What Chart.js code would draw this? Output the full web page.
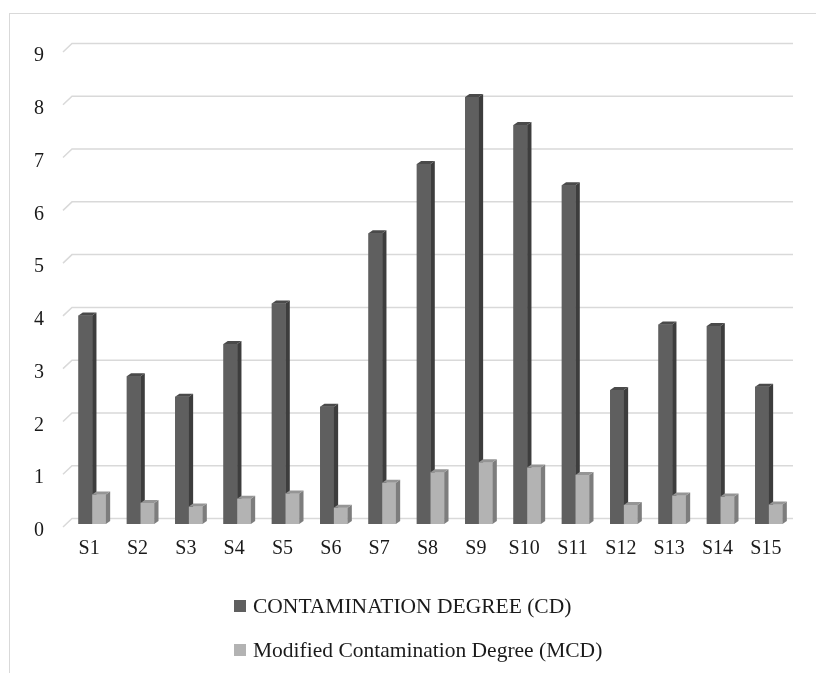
<!DOCTYPE html>
<html lang="en">
<head>
<meta charset="UTF-8">
<meta name="viewport" content="width=device-width, initial-scale=1.0">
<title>Contamination Degree by Site</title>
<script src="https://cdn.jsdelivr.net/npm/chart.js"></script>
<style>
    html, body { margin: 0; padding: 0; background: #fff; overflow: hidden; }
    #wrap { position: relative; width: 816px; height: 673px; overflow: hidden; }
    #frame { position: absolute; left: 9px; top: 13px; width: 900px; height: 800px; border: 1px solid #d9d9d9; }
    #chartCanvas { position: absolute; left: 0; top: 0; }
    #legend { position: absolute; left: 234px; top: 584px; font-family: "Liberation Serif", serif; font-size: 21.5px; color: #1a1a1a; }
    .item { height: 44px; display: flex; align-items: center; }
    .box { width: 12px; height: 12px; margin-right: 7px; }
</style>
</head>
<body>
<div id="wrap">
    <div id="frame"></div>
    <canvas id="chartCanvas" width="816" height="673"></canvas>
    <div id="legend"></div>
</div>

<script>
    const sites = ['S1','S2','S3','S4','S5','S6','S7','S8','S9','S10','S11','S12','S13','S14','S15'];
    const cdValues  = [3.95, 2.80, 2.41, 3.41, 4.18, 2.22, 5.51, 6.82, 8.09, 7.56, 6.42, 2.54, 3.78, 3.75, 2.60];
    const mcdValues = [0.56, 0.40, 0.33, 0.48, 0.58, 0.31, 0.78, 0.98, 1.17, 1.07, 0.93, 0.36, 0.54, 0.52, 0.37];
    const yTicks = [0, 1, 2, 3, 4, 5, 6, 7, 8, 9];

    const DEPTH_X = 4.3, DEPTH_Y = 3;
    const FONT = { family: '"Liberation Serif", serif', size: 20 };

    // fake 3D: back-wall grid, then each series redrawn left to right with side/top faces
    const depthBars = {
        id: 'depthBars',
        beforeDatasetsDraw(chart) {
            const { ctx, chartArea, scales: { y } } = chart;
            ctx.save();
            ctx.strokeStyle = '#d9d9d9';
            ctx.lineWidth = 1.5;
            y.ticks.forEach(t => {
                const py = y.getPixelForValue(t.value);
                ctx.beginPath();
                ctx.moveTo(chartArea.left - 5, py + 3);
                ctx.lineTo(chartArea.left + 4, py - 5.5);
                ctx.lineTo(chartArea.right, py - 5.5);
                ctx.stroke();
            });
            ctx.restore();
        },
        afterDatasetsDraw(chart) {
            const ctx = chart.ctx;
            ctx.save();
            chart.data.datasets.forEach((ds, i) => {
                const meta = chart.getDatasetMeta(i);
                meta.data.forEach(bar => {
                    bar.draw(ctx);
                    const { x, y, base, width } = bar.getProps(['x', 'y', 'base', 'width'], true);
                    const l = x - width / 2, r = x + width / 2;
                    ctx.fillStyle = ds.sideColor;
                    ctx.beginPath();
                    ctx.moveTo(r, y);
                    ctx.lineTo(r + DEPTH_X, y - DEPTH_Y);
                    ctx.lineTo(r + DEPTH_X, base - DEPTH_Y);
                    ctx.lineTo(r, base);
                    ctx.closePath();
                    ctx.fill();
                    ctx.fillStyle = ds.topColor;
                    ctx.beginPath();
                    ctx.moveTo(l, y);
                    ctx.lineTo(l + DEPTH_X, y - DEPTH_Y);
                    ctx.lineTo(r + DEPTH_X, y - DEPTH_Y);
                    ctx.lineTo(r, y);
                    ctx.closePath();
                    ctx.fill();
                });
            });
            ctx.restore();
        }
    };

    const ctx = document.getElementById('chartCanvas').getContext('2d');
    const chart = new Chart(ctx, {
        type: 'bar',
        data: {
            labels: sites,
            datasets: [{
                label: 'CONTAMINATION DEGREE (CD)',
                data: cdValues,
                backgroundColor: '#5f5f5f',
                sideColor: '#3d3d3d',
                topColor: '#4a4a4a'
            }, {
                label: 'Modified Contamination Degree (MCD)',
                data: mcdValues,
                backgroundColor: '#b3b3b3',
                sideColor: '#7d7d7d',
                topColor: '#959595'
            }]
        },
        options: {
            responsive: false,
            animation: false,
            categoryPercentage: 0.567,
            barPercentage: 1.0,
            layout: { padding: { top: 49, right: 23, bottom: 0, left: 0 } },
            plugins: {
                legend: { display: false },
                tooltip: { enabled: false }
            },
            scales: {
                x: {
                    grid: { display: false, drawTicks: false },
                    border: { display: false },
                    ticks: { font: FONT, color: '#1a1a1a', padding: 13, labelOffset: -3, maxRotation: 0 },
                    afterFit: s => { s.height = 149; }
                },
                y: {
                    min: 0,
                    max: 9,
                    afterBuildTicks: s => { s.ticks = yTicks.map(v => ({ value: v })); },
                    grid: { display: false, drawTicks: false },
                    border: { display: false },
                    ticks: { font: FONT, color: '#1a1a1a', padding: 24, labelOffset: 7 },
                    afterFit: s => { s.width = 68; }
                }
            }
        },
        plugins: [depthBars]
    });

    // legend as two stacked rows
    const legend = document.getElementById('legend');
    chart.data.datasets.forEach(ds => {
        const row = document.createElement('div');
        row.className = 'item';
        const box = document.createElement('span');
        box.className = 'box';
        box.style.background = ds.backgroundColor;
        row.appendChild(box);
        row.appendChild(document.createTextNode(ds.label));
        legend.appendChild(row);
    });
</script>
</body>
</html>
